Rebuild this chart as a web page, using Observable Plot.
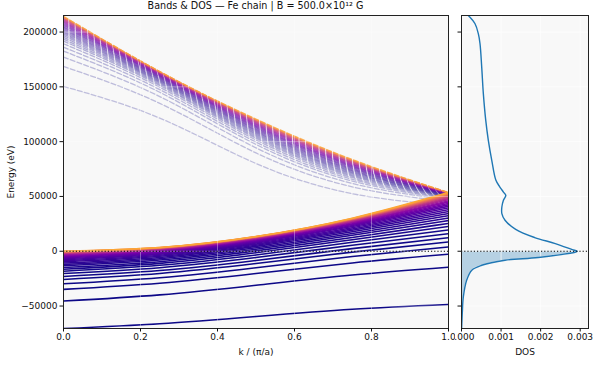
<!DOCTYPE html>
<html><head><meta charset="utf-8">
<script src="https://cdn.jsdelivr.net/npm/d3@7"></script>
<script src="https://cdn.jsdelivr.net/npm/@observablehq/plot@0.6"></script>
<style>
body{margin:0;background:#fff;}
#wrap{position:relative;width:594px;height:367px;font-family:"DejaVu Sans",sans-serif;color:#111;}
#title{position:absolute;left:63px;width:385px;top:0px;text-align:center;font-size:9.6px;line-height:12px;white-space:nowrap;}
#left{position:absolute;left:0;top:0;}
#right{position:absolute;left:455px;top:0;}
</style></head>
<body>
<div id="wrap">
<div id="title">Bands &amp; DOS — Fe chain | B = 500.0×10¹² G</div>
<div id="left"></div>
<div id="right"></div>
</div>
<script>
const kGrid = [0, 0.25, 0.5, 0.75, 1];
const energyTicks = [-50000, 0, 50000, 100000, 150000, 200000];
const kTicks = [0, 0.2, 0.4, 0.6, 0.8, 1.0];
const dosTicks = [0, 0.001, 0.002, 0.003];
const fermiLevel = 0;

// lower (solid) bands: energy at kGrid
const lowerBands = [
[-70500,-66100,-59500,-52900,-48500],
[-45450,-39830,-31010,-21670,-14500],
[-34800,-29270,-20370,-10650,-2700],
[-29700,-24160,-15050,-4860,3900],
[-25700,-20290,-11210,-820,8500],
[-23000,-17620,-8380,2390,12400],
[-20300,-14980,-5680,5390,16000],
[-18200,-12870,-3370,8150,19500],
[-16400,-11080,-1400,10520,22600],
[-14800,-9500,320,12620,25400],
[-13300,-8040,1900,14560,28000],
[-12000,-6790,3240,16220,30300],
[-10800,-5660,4440,17720,32400],
[-9700,-4630,5540,19110,34400],
[-8700,-3710,6500,20330,36200],
[-7700,-2800,7430,21490,37900],
[-6800,-2000,8250,22540,39500],
[-6000,-1290,8970,23500,41000],
[-5200,-600,9660,24390,42400],
[-4500,0,10250,25180,43700],
[-3800,580,10810,25910,44900],
[-3200,1070,11260,26530,46000],
[-2600,1550,11720,27160,47100],
[-2050,1980,12120,27710,48100],
[-1550,2360,12470,28230,49100],
[-1100,2690,12760,28680,50000],
[-700,2970,13010,29100,50900],
[-380,3180,13210,29490,51800],
[-150,3310,13340,29840,52700],
[0,3350,13400,30150,53600]
];
// upper (dashed) bands
const upperBands = [
[150400,121460,80050,52520,42000],
[168600,134940,89700,58790,45360],
[177100,141140,94330,61890,46890],
[182600,145040,97440,64070,47880],
[186200,147510,99610,65680,48520],
[189300,149620,101520,67100,49080],
[191700,151190,103070,68310,49510],
[193500,152330,104300,69310,49840],
[195200,153380,105480,70270,50140],
[196700,154300,106540,71170,50410],
[198100,155150,107550,72020,50670],
[199400,155930,108500,72820,50900],
[200600,156640,109400,73590,51120],
[201800,157350,110280,74340,51330],
[202900,157990,111110,75070,51530],
[204000,158620,111940,75770,51730],
[205000,159200,112720,76450,51910],
[206000,159770,113490,77130,52090],
[206900,160270,114200,77770,52250],
[207800,160760,114910,78390,52410],
[208700,161270,115620,79020,52570],
[209500,161700,116280,79620,52720],
[210300,162120,116920,80210,52860],
[211050,162530,117550,80770,53000],
[211750,162880,118140,81320,53120],
[212400,163200,118720,81860,53240],
[213000,163490,119250,82370,53350],
[213550,163740,119760,82860,53450],
[214000,163930,120220,83310,53530],
[214400,164000,120600,83750,53600]
];
// density of states
const dosEnergy = [-70500,-69000,-56500,-41700,-26400,-17300,-12800,-8200,-5700,-640,0,1500,7000,12500,20000,28300,34400,40400,46500,51000,54000,58600,64700,83000,101200,119400,143800,168000,189300,198500,207600,215100];
const dosValue  = [0.000003,0.000005,0.00002,0.000046,0.00013,0.00026,0.00051,0.0011,0.00194,0.0029,0.00292,0.0028,0.00237,0.00185,0.00137,0.0011,0.00102,0.00102,0.00106,0.00112,0.00106,0.00097,0.00087,0.000765,0.000678,0.000613,0.000552,0.000511,0.000468,0.000425,0.000342,0.000172];

const yDomain = [-70500, 215100];
const font = {fontFamily: "DejaVu Sans", fontSize: "9px", background: "transparent", color: "#111"};
const bg = "#f8f8f8";

function bandRows(arr) {
  return arr.map((vals, i) => vals.map((E, j) => ({band: i, k: kGrid[j], E})));
}
const lowRows = bandRows(lowerBands);
const upRows = bandRows(upperBands);
const nB = lowerBands.length;
const frac = i => i / (nB - 1);
const col = i => d3.interpolatePlasma(0.8 * Math.pow(frac(i), 3));

const bandMarks = [];
upRows.forEach((rows, i) => bandMarks.push(Plot.line(rows, {x: "k", y: "E", curve: "natural", stroke: col(i), strokeOpacity: 0.24 + 0.5 * Math.pow(frac(i), 1.3), strokeWidth: 1.3, strokeDasharray: "5,2.2", clip: true})));
lowRows.forEach((rows, i) => bandMarks.push(Plot.line(rows, {x: "k", y: "E", curve: "natural", stroke: col(i), strokeWidth: 1.55, clip: true})));

const left = Plot.plot({
  width: 455, height: 367, marginLeft: 63, marginRight: 7, marginTop: 15, marginBottom: 39,
  style: font,
  x: {domain: [0, 1]},
  y: {domain: yDomain},
  marks: [
    Plot.frame({fill: bg}),
    ...bandMarks,
    Plot.gridX(kTicks, {stroke: "white", strokeOpacity: 0.35, strokeWidth: 1}),
    Plot.gridY(energyTicks, {stroke: "white", strokeOpacity: 0.35, strokeWidth: 1}),
    Plot.ruleY([fermiLevel], {stroke: "#000", strokeWidth: 1.2, strokeDasharray: "1.2,2"}),
    Plot.frame({stroke: "#222", strokeWidth: 1}),
    Plot.axisX(kTicks, {tickFormat: d3.format(".1f"), tickSize: 3.5, tickPadding: 2, label: "k / (π/a)", labelAnchor: "center", labelArrow: "none", labelOffset: 26}),
    Plot.axisY(energyTicks, {tickFormat: d3.format("d"), tickSize: 3.5, tickPadding: 2.5, label: "Energy (eV)", labelAnchor: "center", labelArrow: "none", labelOffset: 56})
  ]
});
document.getElementById("left").appendChild(left);

const dosRows = dosEnergy.map((E, i) => ({E, D: dosValue[i]}));
const right = Plot.plot({
  width: 139, height: 367, marginLeft: 6, marginRight: 6, marginTop: 15, marginBottom: 39,
  style: font,
  x: {domain: [0, 0.00321]},
  y: {domain: yDomain},
  marks: [
    Plot.frame({fill: bg}),
    Plot.areaX(dosRows.filter(d => d.E <= fermiLevel), {x: "D", y: "E", fill: "#1f77b4", fillOpacity: 0.3, curve: "catmull-rom"}),
    Plot.gridX(dosTicks, {stroke: "white", strokeOpacity: 0.7, strokeWidth: 1}),
    Plot.gridY(energyTicks, {stroke: "white", strokeOpacity: 0.7, strokeWidth: 1}),
    Plot.line(dosRows, {x: "D", y: "E", curve: "catmull-rom", stroke: "#1f77b4", strokeWidth: 1.4, clip: true}),
    Plot.ruleY([fermiLevel], {stroke: "#000", strokeWidth: 1.2, strokeDasharray: "1.2,2"}),
    Plot.frame({stroke: "#222", strokeWidth: 1}),
    Plot.axisX(dosTicks, {tickFormat: d3.format(".3f"), tickSize: 3.5, tickPadding: 2, label: "DOS", labelAnchor: "center", labelArrow: "none", labelOffset: 26}),
    Plot.axisY(energyTicks, {tickFormat: () => "", tickSize: 3.5, label: null})
  ]
});
document.getElementById("right").appendChild(right);
</script>
</body></html>
